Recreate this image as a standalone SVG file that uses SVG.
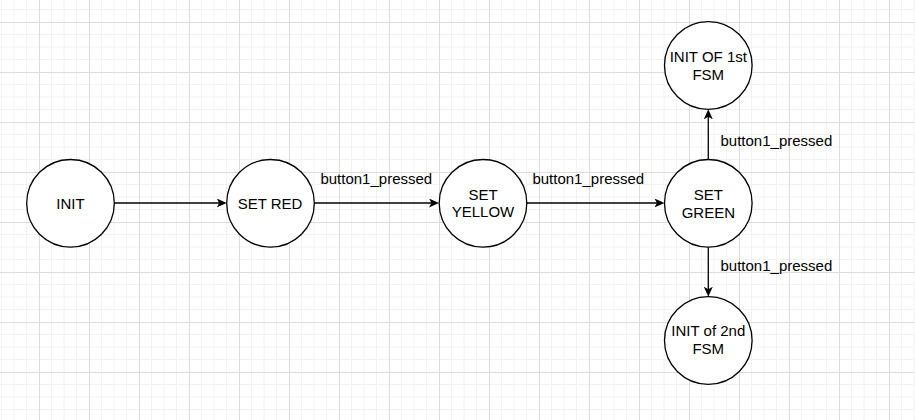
<svg xmlns="http://www.w3.org/2000/svg" width="915" height="420" viewBox="0 0 915 420">
<defs>
<pattern id="grid" patternUnits="userSpaceOnUse" x="39" y="22" width="50" height="50">
<path d="M12.5,0V50M25,0V50M37.5,0V50M0,12.5H50M0,25H50M0,37.5H50" stroke="#f2f2f2" stroke-width="1" fill="none"/>
<path d="M0.5,0V50M0,0.5H50" stroke="#dcdcdc" stroke-width="1" fill="none"/>
</pattern>
<marker id="arr" viewBox="0 0 10 9" refX="7" refY="4.5" markerWidth="10" markerHeight="9" markerUnits="userSpaceOnUse" orient="auto">
<path d="M0,0 L10,4.5 L0,9 L2.5,4.5 Z" fill="#000"/>
</marker>
</defs>
<style>
.node circle{fill:#fff;stroke:#000;stroke-width:1.3}
.node text,.lbl{font-family:"Liberation Sans",Arial,sans-serif;font-size:15px;fill:#000}
.node text{text-anchor:middle}
.edge{stroke:#000;stroke-width:1.3;fill:none;marker-end:url(#arr)}
</style>
<rect width="915" height="420" fill="#fff"/>
<rect width="915" height="420" fill="url(#grid)"/>
<g id="connectors">
<path class="edge" d="M114.3,203 H223.7"/>
<path class="edge" d="M314.3,203 H436"/>
<path class="edge" d="M527,203 H661.5"/>
<path class="edge" d="M708.3,159.3 V112.3"/>
<path class="edge" d="M708.3,247.3 V293.7"/>
<text class="lbl" x="376.3" y="183.5" text-anchor="middle">button1_pressed</text>
<text class="lbl" x="588.3" y="183.5" text-anchor="middle">button1_pressed</text>
<text class="lbl" x="720.5" y="145.5">button1_pressed</text>
<text class="lbl" x="720.5" y="270.5">button1_pressed</text>
</g>
<g id="init" class="node">
<circle cx="70.5" cy="203.3" r="43.8"/>
<text x="70.5" y="208.5">INIT</text>
</g>
<g id="set-red" class="node">
<circle cx="270.5" cy="203.3" r="43.8"/>
<text x="270" y="208.5">SET RED</text>
</g>
<g id="set-yellow" class="node">
<circle cx="483" cy="203.3" r="43.8"/>
<text x="483" y="199.5">SET</text>
<text x="483" y="217">YELLOW</text>
</g>
<g id="set-green" class="node">
<circle cx="708.3" cy="203.3" r="43.8"/>
<text x="708.3" y="200">SET</text>
<text x="708.3" y="217.5">GREEN</text>
</g>
<g id="init-1st" class="node">
<circle cx="708.3" cy="65.5" r="43.8"/>
<text x="708.3" y="62">INIT OF 1st</text>
<text x="708.3" y="79.5">FSM</text>
</g>
<g id="init-2nd" class="node">
<circle cx="708.3" cy="340.5" r="43.8"/>
<text x="708.3" y="336.2">INIT of 2nd</text>
<text x="708.3" y="354">FSM</text>
</g>
</svg>
